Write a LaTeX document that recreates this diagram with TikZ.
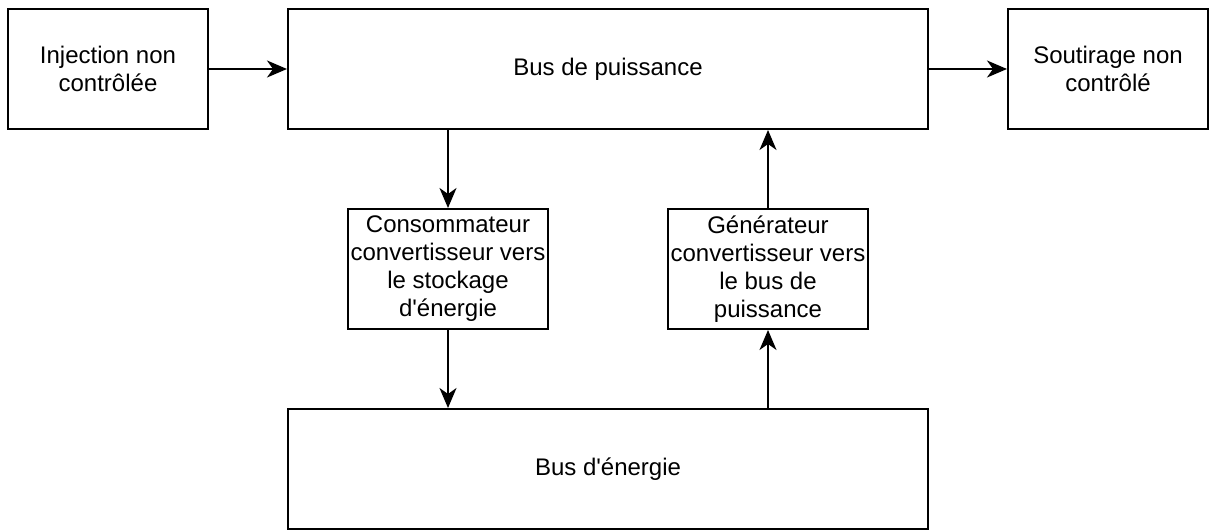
\documentclass[tikz,border=0pt]{standalone}
\usepackage{fontspec}
\setmainfont{Liberation Sans}[Ligatures=TeXOff]
\usetikzlibrary{arrows.meta}
\begin{document}
\begin{tikzpicture}[x=1pt,y=-1pt,
  box/.style={draw, line width=2pt, inner sep=0pt, align=center,
    font=\fontsize{24}{28}\selectfont},
  wide/.style={box, minimum width=640pt, minimum height=120pt},
  small/.style={box, minimum width=200pt, minimum height=120pt},
  arr/.style={line width=2pt, -{Stealth[length=20pt,width=17pt,inset=6pt]}}]
\useasboundingbox (0,0) rectangle (1214,532);
\node[small] (inj) at (108,69) {Injection non\\contrôlée};
\node[wide] (bp) at (608,69) {Bus de puissance};
\node[small] (sout) at (1108,69) {Soutirage non\\contrôlé};
\node[small] (cons) at (448,269) {Consommateur\\convertisseur vers\\le stockage\\d'énergie};
\node[small] (gen) at (768,269) {Générateur\\convertisseur vers\\le bus de\\puissance};
\node[wide] (be) at (608,469) {Bus d'énergie};
\draw[arr] (inj.east) -- (bp.west);
\draw[arr] (bp.east) -- (sout.west);
\draw[arr] (bp.south -| cons.north) -- (cons.north);
\draw[arr] (cons.south) -- (cons.south |- be.north);
\draw[arr] (be.north -| gen.south) -- (gen.south);
\draw[arr] (gen.north) -- (gen.north |- bp.south);
\end{tikzpicture}
\end{document}
